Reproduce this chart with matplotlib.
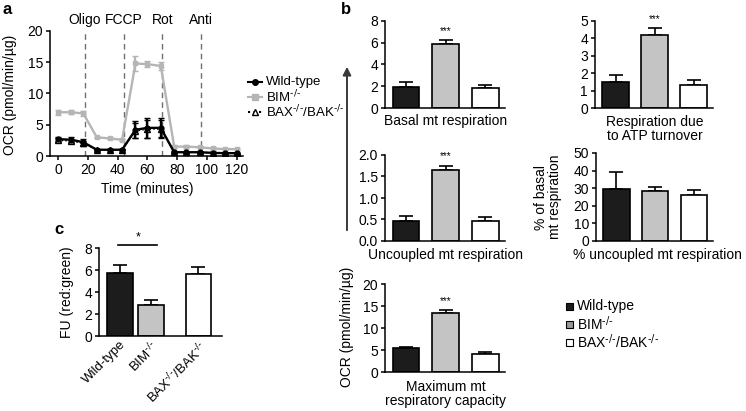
import matplotlib.pyplot as plt
from matplotlib.patches import Rectangle, FancyArrowPatch
from matplotlib.lines import Line2D

plt.rcParams['font.family'] = ['Liberation Sans', 'DejaVu Sans']
plt.rcParams['mathtext.default'] = 'regular'
plt.rcParams['font.size'] = 10
plt.rcParams['axes.linewidth'] = 1.1

# ---- panel a: OCR trace ----
time_min = [0, 9, 17, 26, 35, 43, 52, 60, 69, 78, 86, 95, 104, 112, 120]
wt_ocr = [2.7, 2.6, 2.2, 1.0, 1.0, 1.0, 4.2, 4.5, 4.5, 0.6, 0.6, 0.6, 0.5, 0.45, 0.45]
wt_err = [0.3, 0.4, 0.5, 0.15, 0.1, 0.1, 1.4, 1.6, 1.5, 0.2, 0.1, 0.1, 0.1, 0.1, 0.1]
bim_ocr = [7.0, 7.0, 6.8, 3.0, 2.8, 2.6, 14.8, 14.7, 14.4, 1.5, 1.5, 1.4, 1.2, 1.1, 1.1]
bim_err = [0.4, 0.3, 0.35, 0.1, 0.1, 0.15, 1.2, 0.5, 0.6, 0.2, 0.2, 0.2, 0.2, 0.2, 0.2]
bax_ocr = [2.5, 2.4, 2.0, 1.0, 1.0, 1.0, 4.0, 4.3, 4.3, 0.6, 0.6, 0.6, 0.5, 0.45, 0.45]
bax_err = [0.3, 0.3, 0.4, 0.1, 0.1, 0.1, 1.2, 1.4, 1.4, 0.1, 0.1, 0.1, 0.1, 0.1, 0.1]
inject_t = [18, 44, 70, 96]
inject_names = ['Oligo', 'FCCP', 'Rot', 'Anti']

# ---- panel b: summary bars (WT, BIM, BAX/BAK) ----
basal = [1.95, 5.85, 1.8]
basal_err = [0.45, 0.4, 0.3]
atp = [1.5, 4.2, 1.35]
atp_err = [0.42, 0.4, 0.25]
uncoupled = [0.47, 1.65, 0.47]
uncoupled_err = [0.1, 0.1, 0.08]
pct_uncoupled = [29.5, 28.3, 26.0]
pct_uncoupled_err = [9.5, 2.2, 2.8]
maximal = [5.5, 13.4, 4.0]
maximal_err = [0.15, 0.6, 0.6]

# ---- panel c: membrane potential ----
fu_ratio = [5.7, 2.8, 5.6]
fu_err = [0.8, 0.45, 0.7]

groups = ['Wild-type', r'BIM$^{\text{-/-}}$', r'BAX$^{\text{-/-}}$/BAK$^{\text{-/-}}$']
bar_colors = ['#1c1c1c', '#c4c4c4', 'white']

W, H = 746, 411
fig = plt.figure(figsize=(W / 100, H / 100), dpi=100)


def box(l, t, r, b):
    return [l / W, 1 - b / H, (r - l) / W, (b - t) / H]


def ftext(x, y, s, **kw):
    kw.setdefault('ha', 'center')
    kw.setdefault('va', 'center')
    fig.text(x / W, 1 - y / H, s, **kw)


def style(ax):
    ax.spines['top'].set_visible(False)
    ax.spines['right'].set_visible(False)
    ax.tick_params(direction='out', length=3, width=1.1, pad=2, labelsize=10)


# panel a
ax = fig.add_axes(box(50, 31, 243, 156))
style(ax)
ax.errorbar(time_min, bax_ocr, yerr=bax_err, color='k', ls=':', marker='^',
            mfc='white', ms=4, capsize=2, lw=1, zorder=2)
ax.errorbar(time_min, bim_ocr, yerr=bim_err, color='#b5b5b5', marker='s',
            ms=3.5, capsize=2, lw=1.7, zorder=3)
ax.errorbar(time_min, wt_ocr, yerr=wt_err, color='k', marker='o',
            ms=3.5, capsize=2, lw=1.7, zorder=4)
for t, name in zip(inject_t, inject_names):
    ax.axvline(t, color='#707070', ls=(0, (4, 3)), lw=1, zorder=1)
    ax.text(t, 21.8, name, ha='center', va='center', clip_on=False)
ax.set_xlim(-5.4, 124.2)
ax.set_ylim(0, 20)
ax.set_xticks([0, 20, 40, 60, 80, 100, 120])
ax.set_yticks([0, 5, 10, 15, 20])
ftext(147, 189, 'Time (minutes)')
ftext(10, 95, 'OCR (pmol/min/\u00b5g)', rotation=90)
ftext(7, 9, 'a', fontsize=12, fontweight='bold')

# panel a legend
leg_a = [('k', 'o', '-', 'k', groups[0]),
         ('#b5b5b5', 's', '-', '#b5b5b5', groups[1]),
         ('k', '^', ':', 'white', groups[2])]
for i, (c, m, ls, mfc, lab) in enumerate(leg_a):
    yp = 82 + 15 * i
    y = 1 - yp / H
    fig.add_artist(Line2D([248 / W, 262 / W], [y, y], color=c, ls=ls, lw=1.5,
                          transform=fig.transFigure))
    fig.add_artist(Line2D([255 / W], [y], color=c, marker=m, mfc=mfc, ms=4,
                          transform=fig.transFigure))
    ftext(266, yp, lab, ha='left', fontsize=9.5)

# panel b
xpos = [0, 1, 2]


def bar_panel(rect, vals, errs, ymax, yticks, label, lab_xy, stars=None, fmt='{:g}'):
    ax = fig.add_axes(box(*rect))
    style(ax)
    ax.bar(xpos, vals, width=0.68, color=bar_colors, edgecolor='k', lw=1.2, zorder=2)
    ax.errorbar(xpos, vals, yerr=[[0, 0, 0], errs], fmt='none', ecolor='k',
                elinewidth=1.2, capsize=5, capthick=1.2, zorder=1)
    ax.set_xlim(-0.53, 2.5)
    ax.set_ylim(0, ymax)
    ax.set_xticks([])
    ax.set_yticks(yticks)
    ax.set_yticklabels([fmt.format(v) for v in yticks])
    if stars:
        ax.text(1, vals[1] + errs[1] + ymax * 0.05, stars, ha='center',
                va='bottom', fontsize=7)
    ftext(lab_xy[0], lab_xy[1], label, linespacing=1.05)
    return ax


bar_panel((385, 21, 505, 108), basal, basal_err, 8, [0, 2, 4, 6, 8],
          'Basal mt respiration', (446, 121), stars='***')
bar_panel((595, 21, 713, 108), atp, atp_err, 5, [0, 1, 2, 3, 4, 5],
          'Respiration due\nto ATP turnover', (655, 129), stars='***')
bar_panel((385, 155, 505, 241), uncoupled, uncoupled_err, 2,
          [0, 0.5, 1.0, 1.5, 2.0], 'Uncoupled mt respiration', (446, 255),
          stars='***', fmt='{:.1f}')
bar_panel((596, 153, 713, 241), pct_uncoupled, pct_uncoupled_err, 50,
          [0, 10, 20, 30, 40, 50], '% uncoupled mt respiration', (657, 255))
bar_panel((385, 284, 505, 372), maximal, maximal_err, 20, [0, 5, 10, 15, 20],
          'Maximum mt\nrespiratory capacity', (446, 394), stars='***')

ftext(548, 197, '% of basal\nmt respiration', rotation=90, linespacing=1.05)
ftext(347, 327, 'OCR (pmol/min/\u00b5g)', rotation=90)
ftext(346, 9, 'b', fontsize=12, fontweight='bold')
fig.add_artist(FancyArrowPatch((347 / W, 1 - 233 / H), (347 / W, 1 - 64 / H),
                               transform=fig.transFigure, arrowstyle='-|>',
                               mutation_scale=12, color='#3a3a3a', lw=1.4))

# panel b legend
for i, (c, lab) in enumerate(zip(['#1c1c1c', '#9a9a9a', 'white'], groups)):
    yc = 306 + 18 * i
    fig.add_artist(Rectangle((566 / W, 1 - (yc + 3.5) / H), 7 / W, 7 / H,
                             facecolor=c, edgecolor='k', lw=0.8,
                             transform=fig.transFigure))
    ftext(577, yc, lab, ha='left')

# panel c
cx = [0, 1, 2.57]
ax = fig.add_axes(box(99, 248, 222, 336))
style(ax)
ax.bar(cx, fu_ratio, width=0.85, color=bar_colors, edgecolor='k', lw=1.2, zorder=2)
ax.errorbar(cx, fu_ratio, yerr=[[0, 0, 0], fu_err], fmt='none', ecolor='k',
            elinewidth=1.2, capsize=5, capthick=1.2, zorder=1)
ax.set_xlim(-0.69, 3.34)
ax.set_ylim(0, 8)
ax.set_yticks([0, 2, 4, 6, 8])
ax.set_xticks(cx)
ax.set_xticklabels(groups, rotation=45, ha='right', rotation_mode='anchor',
                   fontsize=9.5)
ax.tick_params(axis='x', length=0, pad=2)
ax.plot([-0.07, 1.21], [8.25, 8.25], color='k', lw=1.2, clip_on=False)
ax.text(0.6, 8.4, '*', ha='center', va='bottom', fontsize=9)
ftext(67, 292, 'FU (red:green)', rotation=90)
ftext(59, 229, 'c', fontsize=12, fontweight='bold')

fig.savefig('out.png', dpi=100)
